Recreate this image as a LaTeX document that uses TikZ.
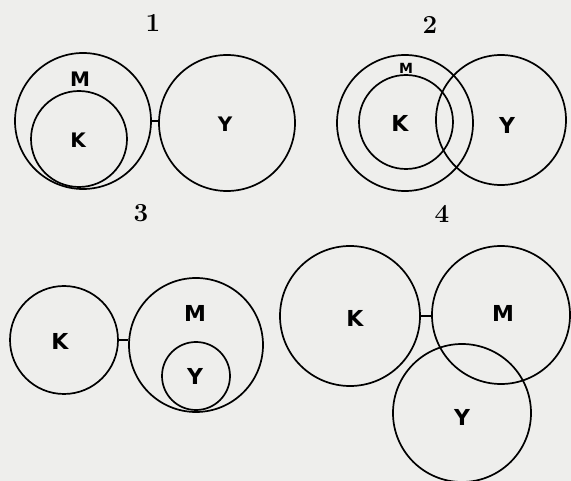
\documentclass[tikz,border=0pt]{standalone}
\usepackage{fontspec}
\setsansfont{DejaVu Sans}
\usepackage{tikz}
\usetikzlibrary{positioning}

\definecolor{paper}{RGB}{238,238,236}
\tikzset{
  ring/.style={draw,circle,inner sep=0pt,line width=1.7pt},
  tag/.style={font=\sffamily\bfseries\fontsize{22}{24}\selectfont},
  smalltag/.style={font=\sffamily\bfseries\fontsize{20}{22}\selectfont},
  num/.style={font=\bfseries\fontsize{26}{28}\selectfont},
  link/.style={line width=1.2pt}
}

\begin{document}
\begin{tikzpicture}[x=1pt,y=-1pt,line join=round]
\fill[paper] (0,0) rectangle (571,481);
\useasboundingbox (0,0) rectangle (571,481);
% figure 1
\node[num] (n1) at (153,23) {1};
\node[ring,minimum size=136pt] (m1) at (83,121) {};
\node[ring,minimum size=96pt] (k1) at (79,139) {};
\node[ring,minimum size=136pt] (y1) at (227,123) {};
\node[smalltag] (lm1) at (80,79) {M};
\node[smalltag] (lk1) at (78,140) {K};
\node[smalltag] (ly1) at (225,124) {Y};
\draw[link] (m1.east) -- (y1.west |- m1.east);
% figure 2
\node[num] (n2) at (430,25) {2};
\node[ring,minimum size=136pt] (m2) at (405,123) {};
\node[ring,minimum size=94pt] (k2) at (406,122) {};
\node[ring,minimum size=130pt] (y2) at (501,120) {};
\node[tag,font=\sffamily\bfseries\fontsize{14}{16}\selectfont] (lm2) at (406,68) {M};
\node[tag] (lk2) at (400,123) {K};
\node[tag] (ly2) at (507,125) {Y};
% figure 3
\node[num] (n3) at (141,213) {3};
\node[ring,minimum size=108pt] (k3) at (64,340) {};
\node[ring,minimum size=134pt] (m3) at (196,345) {};
\node[ring,minimum size=68pt] (y3) at (196,376) {};
\node[tag] (lk3) at (60,341) {K};
\node[tag] (lm3) at (195,313) {M};
\node[tag] (ly3) at (195,376) {Y};
\draw[link] (k3.east) -- (m3.west |- k3.east);
% figure 4
\node[num] (n4) at (442,214) {4};
\node[ring,minimum size=140pt] (k4) at (350,316) {};
\node[ring,minimum size=138pt] (m4) at (501,315) {};
\node[ring,minimum size=138pt] (y4) at (462,413) {};
\node[tag] (lk4) at (355,318) {K};
\node[tag] (lm4) at (503,313) {M};
\node[tag] (ly4) at (462,417) {Y};
\draw[link] (k4.east) -- (m4.west |- k4.east);
\end{tikzpicture}
\end{document}
